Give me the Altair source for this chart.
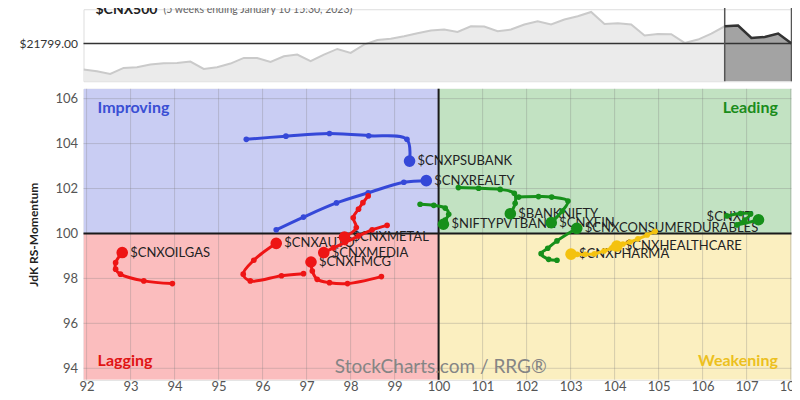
import altair as alt
import pandas as pd

# ---------------- data ----------------
TITLE = "$CNX500"
SUBTITLE = "(5 weeks ending January 10 15:30, 2023)"

# benchmark mini chart (weekly closes)
WEEKS = list(range(54))
PRICES = [20499, 20414, 20279, 20579, 20614, 20749, 20814, 20829, 20899, 20529,
          20614, 20799, 21079, 21079, 20879, 21164, 21249, 20914, 21249, 21529,
          21329, 21749, 21979, 22039, 22164, 22314, 22449, 22499, 22379, 22664,
          22649, 22414, 22499, 22749, 22914, 22749, 22999, 23164, 23379, 22779,
          22814, 22749, 22199, 22279, 22264, 21829, 21999, 22299, 22664, 22699,
          22079, 22129, 22299, 21799]
LAST_PRICE = 21799
TAIL_START = 48
MINI_LO, MINI_HI = 19914, 23514

# RRG axes
X_TICKS = list(range(92, 109))
Y_TICKS = [94, 96, 98, 100, 102, 104, 106]
X_DOM = [91.93, 108.02]
Y_DOM = [93.49, 106.44]

# RRG tails (oldest -> latest)
PSUBANK_X = [95.63, 96.53, 97.52, 98.41, 99.28, 99.34]
PSUBANK_Y = [104.19, 104.33, 104.45, 104.35, 104.19, 103.22]
REALTY_X = [96.31, 96.93, 97.68, 98.40, 99.21, 99.72]
REALTY_Y = [100.16, 100.73, 101.36, 101.81, 102.28, 102.35]
OILGAS_X = [93.95, 93.30, 92.77, 92.66, 92.66, 92.81]
OILGAS_Y = [97.77, 97.89, 98.19, 98.41, 98.70, 99.15]
AUTO_X = [96.93, 96.43, 95.72, 95.56, 95.80, 96.31]
AUTO_Y = [98.21, 98.12, 97.89, 98.19, 98.81, 99.56]
METAL_X = [98.40, 98.28, 98.18, 98.06, 98.13, 97.86]
METAL_Y = [101.67, 101.37, 101.08, 100.70, 100.26, 99.84]
MEDIA_X = [98.83, 98.49, 98.18, 97.88, 97.61, 97.39]
MEDIA_Y = [100.36, 100.16, 99.89, 99.60, 99.36, 99.15]
FMCG_X = [98.70, 97.93, 97.52, 97.24, 97.13, 97.10]
FMCG_Y = [98.08, 97.77, 97.81, 97.96, 98.33, 98.73]
PVTBANK_X = [99.58, 99.89, 100.15, 100.23, 100.15, 100.11]
PVTBANK_Y = [101.30, 101.25, 101.13, 100.85, 100.60, 100.41]
BANKNIFTY_X = [100.45, 100.91, 101.40, 101.72, 101.74, 101.63]
BANKNIFTY_Y = [102.04, 102.01, 101.96, 101.79, 101.34, 100.88]
FIN_X = [101.82, 102.27, 102.57, 102.94, 102.81, 102.56]
FIN_Y = [101.62, 101.64, 101.62, 101.44, 101.00, 100.48]
CONSDUR_X = [102.69, 102.50, 102.33, 102.48, 102.69, 103.14]
CONSDUR_Y = [98.81, 98.85, 99.10, 99.34, 99.67, 100.23]
IT_X = [106.55, 106.86, 107.09, 106.96, 106.78, 107.27]
IT_Y = [100.78, 100.89, 100.87, 100.60, 100.38, 100.61]
HEALTH_X = [104.92, 104.74, 104.53, 104.35, 104.19, 104.05]
HEALTH_Y = [100.09, 99.93, 99.76, 99.62, 99.53, 99.44]
PHARMA_X = [103.94, 103.76, 103.54, 103.33, 103.15, 103.01]
PHARMA_Y = [99.36, 99.22, 99.09, 99.07, 99.07, 99.08]

BLUE, RED, GREEN, YELLOW = "#3548d8", "#ee1515", "#16901a", "#f4c20f"

SERIES = [
    ("$CNXPSUBANK", PSUBANK_X, PSUBANK_Y, BLUE),
    ("$CNXREALTY", REALTY_X, REALTY_Y, BLUE),
    ("$CNXOILGAS", OILGAS_X, OILGAS_Y, RED),
    ("$CNXAUTO", AUTO_X, AUTO_Y, RED),
    ("$CNXFMCG", FMCG_X, FMCG_Y, RED),
    ("$CNXMEDIA", MEDIA_X, MEDIA_Y, RED),
    ("$CNXMETAL", METAL_X, METAL_Y, RED),
    ("$NIFTYPVTBANK", PVTBANK_X, PVTBANK_Y, GREEN),
    ("$BANKNIFTY", BANKNIFTY_X, BANKNIFTY_Y, GREEN),
    ("$CNXCONSUMERDURABLES", CONSDUR_X, CONSDUR_Y, GREEN),
    ("$CNXFIN", FIN_X, FIN_Y, GREEN),
    ("$CNXIT", IT_X, IT_Y, GREEN),
    ("$CNXPHARMA", PHARMA_X, PHARMA_Y, YELLOW),
    ("$CNXHEALTHCARE", HEALTH_X, HEALTH_Y, YELLOW),
]

QUAD_NAMES = ["Improving", "Leading", "Lagging", "Weakening"]
QUAD_X1 = [X_DOM[0], 100, X_DOM[0], 100]
QUAD_X2 = [100, X_DOM[1], 100, X_DOM[1]]
QUAD_Y1 = [100, 100, Y_DOM[0], Y_DOM[0]]
QUAD_Y2 = [Y_DOM[1], Y_DOM[1], 100, 100]
QUAD_FILL = ["#c9cdf3", "#c2e2c2", "#fbbdbe", "#fbefc0"]
QUAD_TEXT = ["#3a4fd4", "#1a8c1a", "#e01414", "#ecc01e"]
QUAD_LX = [92.25, 107.71, 92.25, 107.71]
QUAD_LY = [105.58, 105.58, 94.33, 94.33]
QUAD_ALIGN = ["left", "right", "left", "right"]

# ---------------- tables ----------------
rows = []
for name, xs, ys, col in SERIES:
    for i, (xv, yv) in enumerate(zip(xs, ys)):
        rows.append({"series": name, "step": i, "x": xv, "y": yv, "color": col,
                     "head": i == len(xs) - 1})
tails = pd.DataFrame(rows)
heads = tails[tails["head"]]
heads_main = heads[heads["series"] != "$CNXIT"]
heads_it = heads[heads["series"] == "$CNXIT"]

quads = pd.DataFrame({"name": QUAD_NAMES, "x1": QUAD_X1, "x2": QUAD_X2, "y1": QUAD_Y1,
                      "y2": QUAD_Y2, "fill": QUAD_FILL, "tc": QUAD_TEXT,
                      "lx": QUAD_LX, "ly": QUAD_LY, "al": QUAD_ALIGN})

mini_df = pd.DataFrame({"w": WEEKS, "p": PRICES})
mini_df["base"] = MINI_LO
mini_tail = mini_df[mini_df["w"] >= TAIL_START]

# ---------------- scales / axes ----------------
XS = alt.Scale(domain=X_DOM, nice=False, zero=False)
YS = alt.Scale(domain=Y_DOM, nice=False, zero=False)
x_axis = alt.Axis(values=X_TICKS, format="d", grid=False, ticks=False, domain=False,
                  labelFontSize=13, labelColor="#555", labelPadding=1,
                  labelFlush=False, title=None, labelFont="Lato")
y_axis = alt.Axis(values=Y_TICKS, format="d", grid=False, ticks=False, domain=False,
                  labelFontSize=13, labelColor="#555", labelPadding=6, labelFont="Lato",
                  title="JdK RS-Momentum", titleFontSize=12, titleFont="Lato",
                  titleFontWeight="bold", titleColor="#222", titlePadding=14)


def X(f):
    return alt.X(f, type="quantitative", scale=XS, axis=x_axis)


def Y(f):
    return alt.Y(f, type="quantitative", scale=YS, axis=y_axis)


W = 708
H_MAIN = 291
H_MINI = 72

# ---------------- main RRG ----------------
bg = alt.Chart(quads).mark_rect(clip=True).encode(
    x=X("x1"), x2="x2", y=Y("y1"), y2="y2", color=alt.Color("fill:N", scale=None))

vgrid = alt.Chart(pd.DataFrame({"v": X_TICKS})).mark_rule(
    color="#7a7a7a", opacity=0.3, strokeWidth=1).encode(x=X("v"))
hgrid = alt.Chart(pd.DataFrame({"v": Y_TICKS})).mark_rule(
    color="#7a7a7a", opacity=0.3, strokeWidth=1).encode(y=Y("v"))

center_v = alt.Chart(pd.DataFrame({"v": [100]})).mark_rule(
    color="#1a1a1a", strokeWidth=2).encode(x=X("v"))
center_h = alt.Chart(pd.DataFrame({"v": [100]})).mark_rule(
    color="#1a1a1a", strokeWidth=2).encode(y=Y("v"))

qlab_l = alt.Chart(quads[quads["al"] == "left"]).mark_text(
    align="left", baseline="middle", fontSize=16, fontWeight="bold", font="Lato").encode(
    x=X("lx"), y=Y("ly"), text="name:N", color=alt.Color("tc:N", scale=None))
qlab_r = alt.Chart(quads[quads["al"] == "right"]).mark_text(
    align="right", baseline="middle", fontSize=16, fontWeight="bold", font="Lato").encode(
    x=X("lx"), y=Y("ly"), text="name:N", color=alt.Color("tc:N", scale=None))

wm = alt.Chart(pd.DataFrame({"t": ["StockCharts.com / RRG®"], "x": [100.05], "y": [94.07]})).mark_text(
    align="center", baseline="middle", fontSize=19, font="Lato", color="#858585").encode(
    x=X("x"), y=Y("y"), text="t:N")

labels = alt.Chart(heads_main).mark_text(
    align="left", baseline="middle", dx=8, fontSize=13, font="Lato", color="#222").encode(
    x=X("x"), y=Y("y"), text="series:N")
labels_it = alt.Chart(heads_it).mark_text(
    align="right", baseline="middle", dx=-6, dy=-3, fontSize=13, font="Lato", color="#222").encode(
    x=X("x"), y=Y("y"), text="series:N")

lines = alt.Chart(tails).mark_line(interpolate="catmull-rom", strokeWidth=3).encode(
    x=X("x"), y=Y("y"), color=alt.Color("color:N", scale=None),
    detail="series:N", order="step:Q")
dots = alt.Chart(tails).mark_circle(size=32, opacity=1).encode(
    x=X("x"), y=Y("y"), color=alt.Color("color:N", scale=None))
head_dots = alt.Chart(heads).mark_circle(size=135, opacity=1).encode(
    x=X("x"), y=Y("y"), color=alt.Color("color:N", scale=None))

main = alt.layer(bg, vgrid, hgrid, center_v, center_h, qlab_l, qlab_r, wm,
                 labels, labels_it, lines, dots, head_dots).properties(width=W, height=H_MAIN)

# ---------------- mini benchmark chart ----------------
MXS = alt.Scale(domain=[0, 53], nice=False, zero=False)
MYS = alt.Scale(domain=[MINI_LO, MINI_HI], nice=False, zero=False)
my_axis = alt.Axis(values=[LAST_PRICE], format="$.2f", grid=False, ticks=False, domain=False,
                   labelFontSize=12, labelColor="#333", labelPadding=6, title=None,
                   labelFont="Lato")


def MX(f):
    return alt.X(f, type="quantitative", scale=MXS, axis=None)


def MY(f):
    return alt.Y(f, type="quantitative", scale=MYS, axis=my_axis)


m_area = alt.Chart(mini_df).mark_area(clip=True, color="#ebebeb").encode(
    x=MX("w"), y=MY("p"), y2="base")
m_line = alt.Chart(mini_df).mark_line(clip=True, color="#cacaca", strokeWidth=2).encode(
    x=MX("w"), y=MY("p"))
m_tail = alt.Chart(mini_tail).mark_area(clip=True, color="#a3a3a3").encode(
    x=MX("w"), y=MY("p"), y2="base")
m_h = alt.Chart(pd.DataFrame({"p": [LAST_PRICE]})).mark_rule(
    color="#333", strokeWidth=1.5).encode(y=MY("p"))
m_v = alt.Chart(pd.DataFrame({"w": [TAIL_START, 53]})).mark_rule(
    color="#555", strokeWidth=1.5).encode(x=MX("w"), y=alt.value(-16), y2=alt.value(H_MINI))
m_tail_line = alt.Chart(mini_tail).mark_line(clip=True, color="#333", strokeWidth=2.5).encode(
    x=MX("w"), y=MY("p"))
m_title = alt.Chart(pd.DataFrame({"t": [TITLE]})).mark_text(
    align="left", baseline="alphabetic", fontSize=14, fontWeight="bold",
    font="Lato", color="#222").encode(x=alt.value(12), y=alt.value(4.5), text="t:N")
m_sub = alt.Chart(pd.DataFrame({"t": [SUBTITLE]})).mark_text(
    align="left", baseline="alphabetic", fontSize=10.5, font="Lato",
    color="#666").encode(x=alt.value(80), y=alt.value(3.5), text="t:N")

mini = alt.layer(m_area, m_line, m_tail, m_h, m_v, m_tail_line, m_title, m_sub).properties(
    width=W, height=H_MINI)

chart = alt.vconcat(mini, main, spacing=3.5).properties(
    padding={"left": 9.5, "top": -16.75, "right": -11, "bottom": -1.5}, background="white"
).configure_view(stroke=None).configure(font="Lato")

chart.save("out.html", embed_options={"renderer": "svg", "actions": False})
